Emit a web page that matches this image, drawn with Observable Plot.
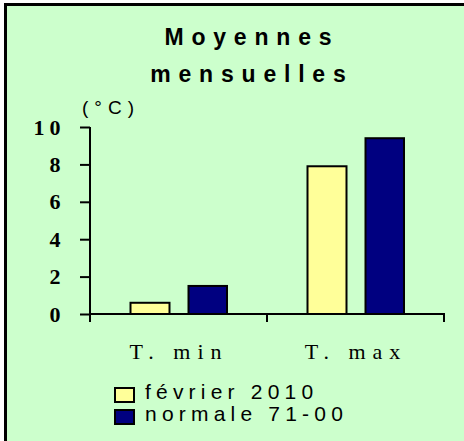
<!DOCTYPE html>
<html>
<head>
<meta charset="utf-8">
<script src="https://cdn.jsdelivr.net/npm/d3@7"></script>
<script src="https://cdn.jsdelivr.net/npm/@observablehq/plot@0.6"></script>
<style>
  html, body { margin: 0; padding: 0; background: #ffffff; }
  #page { position: relative; width: 464px; height: 441px; overflow: hidden; }
  #bg { position: absolute; left: 4px; top: 3px; width: 460px; height: 438px; box-sizing: border-box;
        border-left: 3px solid #000; border-top: 3px solid #000; background: #ccffcc; }
  .title { position: absolute; left: 0; width: 496px; text-align: center; font-family: Arial, "Liberation Sans", sans-serif;
           font-weight: bold; font-size: 23px; line-height: 23px; letter-spacing: 7.8px; padding-left: 7.8px; box-sizing: border-box; color: #000; }
  #unit { position: absolute; left: 82px; top: 98px; font-family: Arial, "Liberation Sans", sans-serif; font-size: 19px; line-height: 19px; letter-spacing: 6px; color: #000; }
  #chart { position: absolute; left: 0; top: 0; }
  #chart g[aria-label="y-axis tick label"] text { letter-spacing: 5px; }
  #chart g[aria-label="x-axis tick label"] text { letter-spacing: 7px; }
  .legrow { position: absolute; left: 114px; height: 22px; display: flex; align-items: flex-start; }
  .sw { width: 21px; height: 16px; box-sizing: border-box; border: 2px solid #000; margin-top: 6.3px; margin-right: 10px; }
  .lt { font-family: Arial, "Liberation Sans", sans-serif; font-size: 21px; line-height: 22px; letter-spacing: 5.2px; color: #000; white-space: nowrap; }
</style>
</head>
<body>
<div id="page">
  <div id="bg"></div>
  <div class="title" style="top:25.5px">Moyennes</div>
  <div class="title" style="top:62.5px">mensuelles</div>
  <div id="unit">(°C)</div>
  <div id="chart"></div>
  <div id="legend"></div>
</div>
<script>
const categories = ["T. min", "T. max"];
const seriesNames = ["février 2010", "normale 71-00"];
const seriesColors = ["#ffff99", "#000080"];
const fevrier = [0.6, 7.9];
const normale = [1.5, 9.4];
const yTicks = [0, 2, 4, 6, 8, 10];

const fevData = categories.map((c, i) => ({cat: c, value: fevrier[i]}));
const normData = categories.map((c, i) => ({cat: c, value: normale[i]}));

function axisLines(index, scales) {
  const {x, y} = scales;
  const bw = x.bandwidth();
  const xs = categories.map(c => x(c));
  xs.push(xs[xs.length - 1] + bw);
  const g = d3.create("svg:g").attr("stroke", "#000").attr("stroke-width", 2).attr("fill", "none");
  g.append("line").attr("x1", xs[0]).attr("x2", xs[0]).attr("y1", y(yTicks[yTicks.length - 1])).attr("y2", y(0));
  g.append("line").attr("x1", xs[0] - 1).attr("x2", xs[xs.length - 1] + 1).attr("y1", y(0)).attr("y2", y(0));
  for (const xv of xs) {
    g.append("line").attr("x1", xv).attr("x2", xv).attr("y1", y(0)).attr("y2", y(0) + 8);
  }
  return g.node();
}

const chart = Plot.plot({
  width: 464,
  height: 441,
  marginTop: 127,
  marginBottom: 127,
  marginLeft: 90,
  marginRight: 20,
  style: {background: "transparent", overflow: "visible", color: "#000"},
  x: {domain: categories, padding: 0, axis: null},
  y: {domain: [0, 10], axis: null},
  marks: [
    Plot.barY(fevData, {x: "cat", y: "value", fill: seriesColors[0], stroke: "#000", strokeWidth: 2, insetLeft: 40.5, insetRight: 97.5}),
    Plot.barY(normData, {x: "cat", y: "value", fill: seriesColors[1], stroke: "#000", strokeWidth: 2, insetLeft: 98.5, insetRight: 40}),
    Plot.axisY({ticks: yTicks, tickSize: 10, tickPadding: 15, strokeWidth: 2, fontSize: 22, fontWeight: "bold",
                fontFamily: "'Times New Roman', 'Liberation Serif', serif", label: null}),
    Plot.axisX({tickSize: 0, tickPadding: 29, fontSize: 22, fontFamily: "'Times New Roman', 'Liberation Serif', serif", label: null}),
    axisLines
  ]
});
document.getElementById("chart").appendChild(chart);

const legend = document.getElementById("legend");
seriesNames.forEach((name, i) => {
  const row = document.createElement("div");
  row.className = "legrow";
  row.style.top = (380.7 + i * 22) + "px";
  const sw = document.createElement("div");
  sw.className = "sw";
  sw.style.background = seriesColors[i];
  const t = document.createElement("div");
  t.className = "lt";
  t.textContent = name;
  row.appendChild(sw);
  row.appendChild(t);
  legend.appendChild(row);
});
</script>
</body>
</html>
